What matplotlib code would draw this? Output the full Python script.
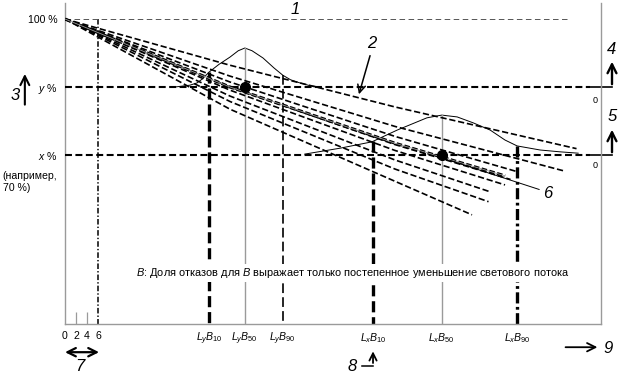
import matplotlib
matplotlib.use('Agg')
import numpy as np
from matplotlib import pyplot as plt

plt.rcParams['font.family'] = ['Liberation Sans', 'DejaVu Sans']
plt.rcParams['mathtext.fontset'] = 'custom'
plt.rcParams['mathtext.rm'] = 'Liberation Sans'
plt.rcParams['mathtext.it'] = 'Liberation Sans:italic'
plt.rcParams['lines.scale_dashes'] = False

# levels of light output, %
level_y = 85.0
level_x = 70.0

# operating time positions (arbitrary units)
t_y = [26.2, 32.7, 39.6]    # LyB10, LyB50, LyB90
t_x = [56.0, 68.5, 82.2]    # LxB10, LxB50, LxB90
labels_y = ['$L_yB_{10}$', '$L_yB_{50}$', '$L_yB_{90}$']
labels_x = ['$L_xB_{10}$', '$L_xB_{50}$', '$L_xB_{90}$']
small_ticks = [0, 2, 4, 6]

# distribution of lifetimes at y % (height above the level line)
dist1_t = [20.0, 22.7, 24.0, 25.0, 26.2, 28.0, 30.0, 31.5, 32.7, 34.0, 36.0, 38.0, 39.6, 41.0, 42.7, 44.5, 46.4]
dist1_h = [0.0, 0.4, 0.9, 1.8, 3.3, 5.0, 6.6, 8.0, 8.6, 8.0, 6.4, 4.2, 2.6, 1.6, 0.9, 0.3, 0.0]
# distribution at x %
dist2_t = [43.6, 50.0, 55.8, 60.4, 65.8, 68.5, 71.3, 74.2, 77.3, 80.0, 82.2, 86.4, 90.0, 93.3]
dist2_h = [0.2, 1.5, 2.9, 5.5, 8.2, 8.8, 8.4, 7.1, 5.5, 3.3, 2.0, 1.1, 0.7, 0.4]

# individual lumen maintenance curves
fan_t = [
    [0, 30, 60, 93],
    [0, 30, 60, 91],
    [0, 30, 60, 82],
    [0, 30, 60, 80],
    [0, 30, 60, 81],
    [0, 30, 60, 80],
    [0, 30, 60, 77],
    [0, 30, 60, 77],
    [0, 30, 60, 74],
]
fan_L = [
    [100, 89.8, 80.6, 71.4],
    [100, 87.4, 76.3, 66.4],
    [100, 86.1, 74.1, 66.4],
    [100, 85.0, 72.6, 65.4],
    [100, 85.0, 72.3, 64.6],
    [100, 84.3, 71.0, 63.4],
    [100, 83.0, 68.9, 62.0],
    [100, 81.8, 66.9, 59.7],
    [100, 80.1, 64.2, 56.8],
]
median_idx = 3

fig = plt.figure(figsize=(6.24, 3.76), dpi=100)
ax = fig.add_axes([65 / 624, 52 / 376, 536 / 624, 321 / 376])
ax.set_xlim(0, 97.45)
ax.set_ylim(32.72, 103.53)

grey = '#9a9a9a'
for s in ['left', 'bottom', 'right']:
    ax.spines[s].set_color(grey)
    ax.spines[s].set_linewidth(1.0)
ax.spines['top'].set_visible(False)

ax.set_yticks([100, level_y, level_x])
ax.set_yticklabels(['100 %', '$y$ %', '$x$ %'], fontsize=7.6)
all_t = small_ticks + t_y + t_x
ax.set_xticks(all_t)
ax.set_xticklabels([str(v) for v in small_ticks] + labels_y + labels_x, fontsize=7.6)
ax.tick_params(length=0, pad=5)

# little ticks at 2 and 4
ax.vlines(small_ticks[1:3], 32.72, 35.4, color=grey, lw=0.9)
# dash-dot line at 6
ax.plot([small_ticks[3]] * 2, [100, 32.72], color='k', lw=1.1, dashes=(4, 1.5, 1, 1.5))

# horizontal reference lines
ax.plot([0, 91.3], [100, 100], color='#555555', lw=0.7, dashes=(4, 2.5))
for lev in [level_y, level_x]:
    ax.plot([0, 95.5], [lev, lev], color='k', lw=1.5, dashes=(5, 2.5), zorder=3)
    ax.plot([95.5, 99.45], [lev, lev], color='k', lw=1.2, clip_on=False)
    ax.annotate('', xy=(99.45, lev + 6.2), xytext=(99.45, lev),
                arrowprops=dict(arrowstyle='->', lw=1.7, color='k', mutation_scale=16),
                annotation_clip=False)

# fan of degradation curves
for i, (tt, LL) in enumerate(zip(fan_t, fan_L)):
    if i == median_idx:
        ax.plot(tt, LL, color='k', lw=2.2, dashes=(4, 1.8), zorder=4)
        ax.plot(tt, LL, color=grey, lw=0.6, zorder=5)
    else:
        ax.plot(tt, LL, color='k', lw=1.2, dashes=(4.5, 2), zorder=3)

# distributions
ax.plot(dist1_t, np.array(dist1_h) + level_y, color='k', lw=0.7)
ax.plot(dist2_t, np.array(dist2_h) + level_x, color='k', lw=0.7)

top_y = np.interp(t_y, dist1_t, dist1_h) + level_y
top_x = np.interp(t_x, dist2_t, dist2_h) + level_x

# vertical lines at B10, B50, B90
ax.plot([t_y[0]] * 2, [top_y[0], 32.72], color='k', lw=2.4, dashes=(8, 3.5), zorder=2)
ax.plot([t_y[1]] * 2, [top_y[1], 32.72], color=grey, lw=1.0, zorder=2)
ax.plot([t_y[2]] * 2, [top_y[2], 32.72], color='k', lw=1.2, dashes=(7, 3), zorder=2)
ax.plot([t_x[0]] * 2, [top_x[0], 32.72], color='k', lw=2.4, dashes=(8, 3.5), zorder=2)
ax.plot([t_x[1]] * 2, [top_x[1], 32.72], color=grey, lw=1.0, zorder=2)
ax.plot([t_x[2]] * 2, [top_x[2], 32.72], color='k', lw=2.4, dashes=(8, 2.5, 2, 2.5), zorder=2)

# median points
ax.plot([t_y[1], t_x[1]], [level_y, level_x], 'o', color='k', ms=7, zorder=6)

# right-side zero labels
ax.text(96.4, level_y - 2.9, '0', fontsize=6.5, ha='center', va='center')
ax.text(96.4, level_x - 2.4, '0', fontsize=6.5, ha='center', va='center')

ax.text(-11.3, 66.4, '(например,\n70 %)', fontsize=7.6, ha='left', va='top',
        linespacing=1.25, clip_on=False)
ax.text(52.3, 44.0, '$B$: Доля отказов для $B$ выражает только постепенное уменьшение светового потока',
        fontsize=7.9, ha='center', va='center', zorder=7,
        bbox=dict(facecolor='white', edgecolor='none', pad=1.5))

# numbered callouts
num = dict(fontsize=12, style='italic', ha='center', va='center')
ax.text(41.8, 102.0, '1', **num)
ax.text(55.8, 94.7, '2', **num)
ax.annotate('', xy=(53.3, 82.8), xytext=(55.6, 92.5),
            arrowprops=dict(arrowstyle='->', lw=1.1, color='k', mutation_scale=14))
ax.text(-9.1, 83.2, '3', clip_on=False, **num)
ax.annotate('', xy=(-7.3, 88.5), xytext=(-7.3, 80.5),
            arrowprops=dict(arrowstyle='->', lw=1.5, color='k', mutation_scale=16),
            annotation_clip=False)
ax.text(99.45, 93.2, '4', clip_on=False, **num)
ax.text(99.45, 78.6, '5', clip_on=False, **num)
ax.text(87.8, 61.6, '6', **num)
ax.plot([70, 86.2], [68.8, 62.4], color='k', lw=0.7, zorder=5)
ax.annotate('', xy=(-0.5, 26.5), xytext=(6.7, 26.5),
            arrowprops=dict(arrowstyle='<->', lw=1.6, color='k', mutation_scale=15),
            annotation_clip=False)
ax.text(2.8, 23.4, '7', clip_on=False, **num)
ax.text(52.3, 23.4, '8', clip_on=False, **num)
ax.plot([54.0, t_x[0]], [23.5, 23.5], color='k', lw=1.1, clip_on=False)
ax.annotate('', xy=(t_x[0], 27.3), xytext=(t_x[0], 23.5),
            arrowprops=dict(arrowstyle='->', lw=1.3, color='k', mutation_scale=13),
            annotation_clip=False)
ax.annotate('', xy=(97.3, 27.6), xytext=(90.5, 27.6),
            arrowprops=dict(arrowstyle='->', lw=1.3, color='k', mutation_scale=15),
            annotation_clip=False)
ax.text(98.7, 27.4, '9', clip_on=False, **num)

fig.savefig('out.png', dpi=100)
